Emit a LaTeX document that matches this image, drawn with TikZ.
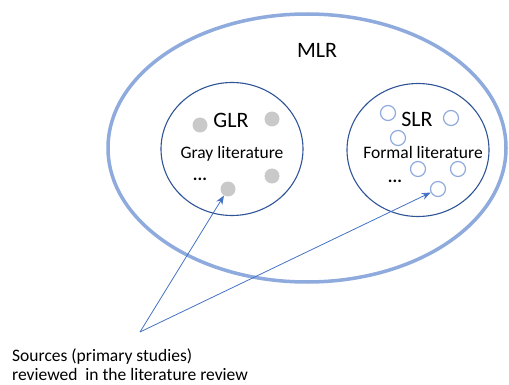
\documentclass[tikz,border=0pt]{standalone}
\usepackage{fontspec}
\setmainfont{Carlito}
\usetikzlibrary{shapes.geometric, arrows.meta, positioning}
\definecolor{lblu}{HTML}{8FAADC}
\definecolor{dblu}{HTML}{2F5597}
\definecolor{ablu}{HTML}{4472C4}
\definecolor{gry}{HTML}{C9C9C9}
\tikzset{
  outer/.style = {ellipse, draw=lblu, line width=3.5pt,
                  minimum width=398pt, minimum height=268pt},
  inner/.style = {ellipse, draw=dblu, line width=1.1pt,
                  minimum width=142pt, minimum height=133pt},
  gdot/.style  = {circle, fill=gry, minimum size=15pt, inner sep=0pt},
  bdot/.style  = {circle, draw=lblu, line width=1.2pt, minimum size=15pt, inner sep=0pt},
  big/.style   = {font=\fontsize{22}{26}\selectfont},
  lbl/.style   = {font=\fontsize{17.5}{19}\selectfont},
  arr/.style   = {-{Stealth[length=9pt, width=7pt]}, color=ablu, line width=0.8pt},
}
\begin{document}
\begin{tikzpicture}[x=1pt, y=-1pt]
  \useasboundingbox (0,0) rectangle (509,385);

  \node[outer] (mlr) at (307,148) {};
  \node[big]   (mlrt) at (317,50) {MLR};

  % gray literature
  \node[inner] (glr)  at (232,149) {};
  \node[big]   (glrt) at (231,120) {GLR};
  \node[lbl]   (gray) at (232,154) {Gray literature};
  \node[lbl, inner sep=0pt] (gdd) at (200,179) {\textbf{...}};
  \node[gdot]  (g1) at (200,125) {};
  \node[gdot]  (g2) at (272,119) {};
  \node[gdot]  (g3) at (272,176) {};
  \node[gdot]  (g4) at (228,189) {};

  % formal literature
  \node[inner] (slr)  at (418,150) {};
  \node[big]   (slrt) at (417,119) {SLR};
  \node[lbl]   (form) at (423,152) {Formal literature};
  \node[lbl, inner sep=0pt] (sdd) at (395,181) {\textbf{...}};
  \node[bdot]  (s1) at (388,113) {};
  \node[bdot]  (s2) at (451,118) {};
  \node[bdot]  (s3) at (398,138) {};
  \node[bdot]  (s4) at (418,169) {};
  \node[bdot]  (s5) at (458,169) {};
  \node[bdot]  (s6) at (438,189) {};

  % sources
  \coordinate (apex) at (140,332);
  \node[lbl, align=left, anchor=base west, inner sep=0pt] (src) at (12,380)
    {Sources (primary studies)\\reviewed\ \ in the literature review};

  \draw[arr] (apex) -- (g4);
  \draw[arr] (apex) -- (s6);

\end{tikzpicture}
\end{document}
